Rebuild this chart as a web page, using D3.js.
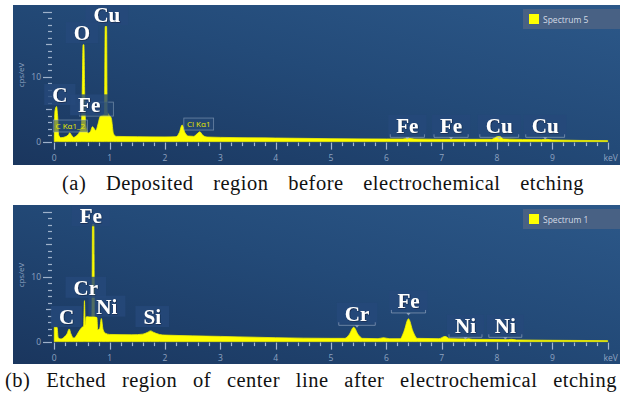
<!DOCTYPE html>
<html>
<head>
<meta charset="utf-8">
<script src="https://cdn.jsdelivr.net/npm/d3@7"></script>
<style>
  html, body { margin: 0; padding: 0; background: #ffffff; }
  svg { display: block; }
</style>
</head>
<body>
<svg id="chart" width="620" height="398"></svg>
<script>
// EDS spectra: [energy keV, counts per eV]
const spectrumA = [
  [0.00, 0.3], [0.01, 4.6], [0.04, 5.4], [0.06, 4.0], [0.08, 1.0], [0.12, 0.6], [0.20, 0.75],
  [0.25, 1.0], [0.28, 1.35], [0.31, 1.0], [0.35, 0.65], [0.40, 0.9], [0.45, 1.4], [0.49, 2.4],
  [0.505, 8.0], [0.52, 14.9], [0.535, 14.9], [0.55, 7.0], [0.57, 2.4], [0.61, 1.3], [0.65, 1.5],
  [0.69, 2.3], [0.72, 2.0], [0.75, 1.7], [0.79, 2.7], [0.83, 3.9], [0.88, 4.1], [0.91, 4.4],
  [0.92, 17.7], [0.945, 17.7], [0.955, 4.6], [0.99, 4.1], [1.03, 3.6], [1.07, 1.2], [1.12, 0.8],
  [1.5, 0.75], [2.0, 0.72], [2.2, 0.75], [2.26, 1.4], [2.31, 2.55], [2.36, 1.4], [2.42, 0.85],
  [2.52, 0.8], [2.58, 1.2], [2.63, 1.5], [2.68, 1.0], [2.76, 0.7], [3.0, 0.65], [4.0, 0.55],
  [5.0, 0.45], [6.0, 0.4], [6.3, 0.4], [6.4, 0.5], [6.5, 0.4], [7.0, 0.35], [7.9, 0.35],
  [8.0, 0.75], [8.05, 0.8], [8.12, 0.4], [8.8, 0.3], [8.9, 0.35], [9.0, 0.25], [10.0, 0.15]
];
const spectrumB = [
  [0.00, 2.2], [0.05, 2.2], [0.07, 0.6], [0.12, 0.4], [0.18, 0.7], [0.23, 1.2], [0.27, 1.95],
  [0.30, 1.2], [0.35, 0.55], [0.39, 0.8], [0.44, 1.5], [0.50, 2.2], [0.53, 2.4], [0.545, 6.3],
  [0.56, 2.6], [0.575, 3.8], [0.68, 3.9], [0.69, 18.0], [0.715, 18.0], [0.725, 3.9], [0.77, 3.7],
  [0.785, 1.8], [0.82, 2.0], [0.85, 3.55], [0.88, 1.9], [0.92, 1.3], [1.0, 1.1], [1.4, 1.05],
  [1.6, 1.15], [1.68, 1.4], [1.74, 1.65], [1.80, 1.4], [1.9, 1.1], [2.0, 1.0], [3.0, 0.8],
  [4.0, 0.6], [5.0, 0.5], [5.25, 0.5], [5.33, 1.1], [5.41, 2.2], [5.49, 1.1], [5.57, 0.5],
  [5.85, 0.45], [5.95, 0.6], [6.05, 0.45], [6.25, 0.45], [6.32, 1.6], [6.40, 3.5], [6.48, 1.6],
  [6.56, 0.5], [6.95, 0.45], [7.06, 0.8], [7.15, 0.45], [7.45, 0.4], [7.48, 0.45], [7.55, 0.35],
  [8.2, 0.3], [8.26, 0.35], [8.35, 0.25], [9.0, 0.2], [10.0, 0.15]
];

// element labels: text, energy of label centre (keV), baseline level (cps/eV), bracket under label
const labelTextA   = ["Cu", "O", "C", "Fe", "Fe", "Fe", "Cu", "Cu"];
const labelEnergyA = [0.95, 0.50, 0.10, 0.63, 6.38, 7.17, 8.04, 8.87];
const labelLevelA  = [18.4, 15.6, 6.1, 4.5, 1.35, 1.35, 1.35, 1.35];
const labelMarkA   = [false, false, false, false, true, true, true, true];

const labelTextB   = ["Fe", "Cr", "Ni", "C", "Si", "Cr", "Fe", "Ni", "Ni"];
const labelEnergyB = [0.66, 0.57, 0.95, 0.22, 1.77, 5.47, 6.40, 7.43, 8.15];
const labelLevelB  = [18.2, 7.2, 4.3, 2.7, 2.7, 3.2, 5.1, 1.35, 1.35];
const labelMarkB   = [false, false, false, false, false, true, true, true, true];

// line-marker tags from the acquisition software
const tagTextA   = ["C Kα1_2", "Cl Kα1"];
const tagEnergyA = [0.29, 2.61];
const tagLevelA  = [2.4, 2.7];

const xTickLabels = ["0", "1", "2", "3", "4", "5", "6", "7", "8", "9", "keV"];
const yTickLabels = ["0", "10"];
const legendNames = ["Spectrum 5", "Spectrum 1"];
const captions = [
  "(a) Deposited region before electrochemical etching",
  "(b) Etched region of center line after electrochemical etching"
];

const svg = d3.select("#chart");
const defs = svg.append("defs");
const grad = defs.append("linearGradient").attr("id", "panelBg")
  .attr("x1", 0).attr("y1", 1).attr("x2", 1).attr("y2", 0);
grad.append("stop").attr("offset", "0%").attr("stop-color", "#1a365e");
grad.append("stop").attr("offset", "55%").attr("stop-color", "#234a78");
grad.append("stop").attr("offset", "100%").attr("stop-color", "#2c5889");

const shadow = defs.append("filter").attr("id", "txtShadow")
  .attr("x", "-20%").attr("y", "-20%").attr("width", "140%").attr("height", "140%");
shadow.append("feDropShadow").attr("dx", 0.6).attr("dy", 0.6).attr("stdDeviation", 0.6)
  .attr("flood-color", "#0a1a30").attr("flood-opacity", 0.8);

const panelLeft = 13, panelRight = 620;

function drawPanel(top, height, spectrum, labels, tags, legendName, hiddenTag) {
  const g = svg.append("g");
  const y0 = top + 136.6;
  const x = d3.scaleLinear().domain([0, 10]).range([54.3, 607.7]);
  const y = d3.scaleLinear().domain([0, 20]).range([y0, y0 - 130]);

  const clipId = "clip" + top;
  defs.append("clipPath").attr("id", clipId).append("rect")
    .attr("x", panelLeft).attr("y", top).attr("width", panelRight - panelLeft).attr("height", height);

  g.append("rect").attr("x", panelLeft).attr("y", top)
    .attr("width", panelRight - panelLeft).attr("height", height)
    .attr("fill", "url(#panelBg)");

  const inner = g.append("g").attr("clip-path", `url(#${clipId})`);

  // y axis ticks
  const yt = inner.append("g").attr("stroke", "#9fb2cb").attr("stroke-width", 1.2);
  d3.range(0, 21).forEach(v => {
    const len = (v % 10 === 0) ? 9 : (v % 5 === 0 ? 6 : 4);
    yt.append("line").attr("x1", 52 - len).attr("x2", 52)
      .attr("y1", Math.round(y(v)) + 0.5).attr("y2", Math.round(y(v)) + 0.5);
  });
  yTickLabels.forEach(t => {
    inner.append("text").attr("x", 41).attr("y", y(+t) + 3)
      .attr("text-anchor", "end").attr("font-family", "Open Sans, sans-serif")
      .attr("font-size", 8.5).attr("fill", "#8ea3c0").text(t);
  });
  inner.append("text")
    .attr("transform", `translate(24,${top + 70}) rotate(-90)`)
    .attr("text-anchor", "middle").attr("font-family", "Open Sans, sans-serif")
    .attr("font-size", 8).attr("fill", "#8ea3c0").text("cps/eV");

  // x axis ticks
  const xt = inner.append("g").attr("stroke", "#a3b6ce").attr("stroke-width", 1.2);
  d3.range(0, 51).forEach(i => {
    const e = i / 5;
    const major = i % 5 === 0;
    xt.append("line").attr("x1", Math.round(x(e)) + 0.5).attr("x2", Math.round(x(e)) + 0.5)
      .attr("y1", y0 + 1).attr("y2", y0 + (major ? 8 : 4.5));
  });
  xTickLabels.forEach((t, i) => {
    inner.append("text").attr("x", x(i) + (t === "keV" ? 3 : 0)).attr("y", y0 + 19)
      .attr("text-anchor", "middle").attr("font-family", "Open Sans, sans-serif")
      .attr("font-size", 8.5).attr("fill", "#8ea3c0").text(t);
  });

  // spectrum
  const area = d3.area()
    .x(d => x(d[0])).y0(y(0)).y1(d => y(d[1]))
    .curve(d3.curveMonotoneX);
  inner.append("path").datum(spectrum).attr("d", area)
    .attr("fill", "#ffff00").attr("stroke", "#f2f200").attr("stroke-width", 0.8);

  // an overlapped marker tag frame, mostly covered by an element label
  if (hiddenTag) {
    inner.append("rect").attr("x", x(hiddenTag[0]) - 17).attr("y", y(hiddenTag[1]) - 7)
      .attr("width", 34).attr("height", 14)
      .attr("fill", "rgba(40,75,120,0.45)").attr("stroke", "rgba(170,190,210,0.55)").attr("stroke-width", 0.8);
  }

  // software line-marker tags
  tags.forEach(tg => {
    const tw = tg.text.length * 4.3 + 4;
    const cx = x(tg.e), cy = y(tg.v);
    inner.append("rect").attr("x", cx - tw / 2).attr("y", cy - 6)
      .attr("width", tw).attr("height", 12)
      .attr("fill", "rgba(40,75,120,0.55)").attr("stroke", "rgba(170,190,210,0.55)").attr("stroke-width", 0.8);
    inner.append("text").attr("x", cx).attr("y", cy + 3)
      .attr("text-anchor", "middle").attr("font-family", "Open Sans, sans-serif")
      .attr("font-size", 8).attr("fill", "#e6e600").text(tg.text);
  });

  // element labels
  labels.forEach(l => {
    const cx = x(l.e), by = y(l.v);
    const t = inner.append("text").attr("x", cx).attr("y", by)
      .attr("text-anchor", "middle").attr("font-family", "Liberation Serif, Times New Roman, serif")
      .attr("font-weight", "bold").attr("font-size", 21).attr("fill", "#ffffff")
      .attr("filter", "url(#txtShadow)").text(l.text);
    const w = t.node().getComputedTextLength();
    const bw = w + 16;
    inner.insert("rect", function () { return t.node(); })
      .attr("x", cx - bw / 2).attr("y", by - 18).attr("width", bw).attr("height", 21)
      .attr("fill", "rgba(38,72,122,0.8)");
    if (l.mark) {
      const bracket = inner.append("g").attr("stroke", "rgba(175,190,210,0.65)").attr("stroke-width", 0.8).attr("fill", "none");
      const bx0 = cx - bw / 2 + 2, bx1 = cx + bw / 2 - 2, yy = by + 4.5;
      bracket.append("path").attr("d", `M${bx0},${yy - 3}V${yy}H${bx1}V${yy - 3}`);
      inner.append("path").attr("d", `M${cx - 2},${yy}L${cx + 2},${yy}L${cx},${yy + 2.5}Z`)
        .attr("fill", "rgba(175,190,210,0.7)");
    }
  });

  // legend
  const lg = g.append("g");
  lg.append("rect").attr("x", 523).attr("y", top + 4).attr("width", 97).attr("height", 20)
    .attr("fill", "#4b6384").attr("opacity", 0.9);
  lg.append("rect").attr("x", 529).attr("y", top + 9).attr("width", 10).attr("height", 10)
    .attr("fill", "#ffff00");
  lg.append("text").attr("x", 543).attr("y", top + 17.5)
    .attr("font-family", "Open Sans, sans-serif").attr("font-size", 8.5)
    .attr("fill", "#d4dbe6").text(legendName);
}

function zipLabels(texts, energies, levels, marks) {
  return texts.map((t, i) => ({ text: t, e: energies[i], v: levels[i], mark: marks[i] }));
}

drawPanel(5, 160, spectrumA,
  zipLabels(labelTextA, labelEnergyA, labelLevelA, labelMarkA),
  tagTextA.map((t, i) => ({ text: t, e: tagEnergyA[i], v: tagLevelA[i] })),
  legendNames[0], [0.76, 5.0]);
drawPanel(205, 159, spectrumB,
  zipLabels(labelTextB, labelEnergyB, labelLevelB, labelMarkB),
  [], legendNames[1], null);

// captions, stretched across their line with letter and word spacing
function caption(text, x0, x1, baseline) {
  const t = svg.append("text").attr("x", x0).attr("y", baseline)
    .attr("font-family", "Liberation Serif, Times New Roman, serif")
    .attr("font-size", 20.5).attr("letter-spacing", 0.5).attr("fill", "#111").text(text);
  const w = t.node().getComputedTextLength();
  const gaps = text.split(" ").length - 1;
  t.attr("word-spacing", Math.max(0, ((x1 - x0) - w) / gaps));
}
caption(captions[0], 62, 584, 190);
caption(captions[1], 5, 617, 387);
</script>
</body>
</html>
